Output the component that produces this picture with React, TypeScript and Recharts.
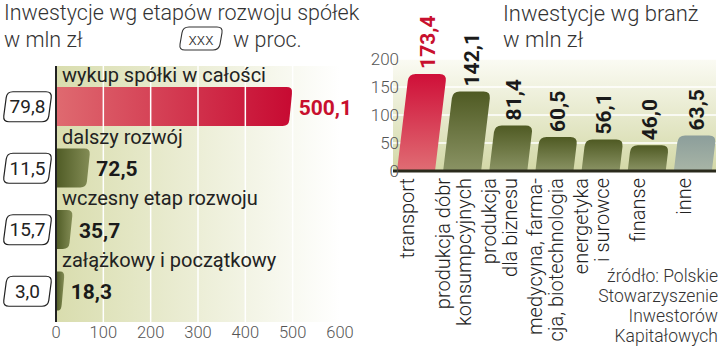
import React from "react";
import { BarChart, Bar, XAxis, YAxis, CartesianGrid, ReferenceLine, LabelList } from "recharts";

// lewy wykres: etapy rozwoju spółek
const stageNames = ["wykup spółki w całości", "dalszy rozwój", "wczesny etap rozwoju", "załążkowy i początkowy"];
const stageValues = [500.1, 72.5, 35.7, 18.3];
const stageShares = [79.8, 11.5, 15.7, 3.0];
const stageTicks = [0, 100, 200, 300, 400, 500, 600];
const stageGrid = [100, 200, 300, 400, 500];

// prawy wykres: branże
const sectorNames = [
  ["transport"],
  ["produkcja dóbr", "konsumpcyjnych"],
  ["produkcja", "dla biznesu"],
  ["medycyna, farma-", "cja, biotechnologia"],
  ["energetyka", "i surowce"],
  ["finanse"],
  ["inne"],
];
const sectorValues = [173.4, 142.1, 81.4, 60.5, 56.1, 46.0, 63.5];
const sectorTicks = [0, 50, 100, 150, 200];
const sourceLines = ["źródło: Polskie", "Stowarzyszenie", "Inwestorów", "Kapitałowych"];

const stageData = stageNames.map((name, i) => ({ name, value: stageValues[i], share: stageShares[i] }));
const sectorData = sectorNames.map((lines, i) => ({ name: lines.join(" "), value: sectorValues[i] }));

const FONT = "Roboto, 'Noto Sans', sans-serif";
const RED = "#c8102e";
const fmt = (v: number) => v.toFixed(1).replace(".", ",");

type Pt = [number, number];
function roundedPoly(pts: Pt[], radii: number[]) {
  const n = pts.length;
  let d = "";
  for (let i = 0; i < n; i++) {
    const p = pts[i];
    const a = pts[(i - 1 + n) % n];
    const b = pts[(i + 1) % n];
    const la = Math.hypot(a[0] - p[0], a[1] - p[1]) || 1;
    const lb = Math.hypot(b[0] - p[0], b[1] - p[1]) || 1;
    const ra = Math.min(radii[i], la / 2);
    const rb = Math.min(radii[i], lb / 2);
    const s = [p[0] + ((a[0] - p[0]) * ra) / la, p[1] + ((a[1] - p[1]) * ra) / la];
    const e = [p[0] + ((b[0] - p[0]) * rb) / lb, p[1] + ((b[1] - p[1]) * rb) / lb];
    d += `${i === 0 ? "M" : "L"}${s[0]},${s[1]}Q${p[0]},${p[1]} ${e[0]},${e[1]}`;
  }
  return d + "Z";
}

const slantBox = (x: number, y: number, w: number, h: number) =>
  roundedPoly(
    [
      [x + 4, y],
      [x + w, y],
      [x + w - 4, y + h],
      [x, y + h],
    ],
    [6, 6, 6, 6]
  );

function HBarShape(props: any) {
  const { x, y, width, height, index } = props;
  if (!width) return null;
  const s = Math.min(4, width * 0.4);
  const d = roundedPoly(
    [
      [x, y],
      [x + width, y],
      [x + width - s, y + height],
      [x, y + height],
    ],
    [0, 6, 6, 0]
  );
  return <path d={d} fill={index === 0 ? "url(#redH)" : "url(#oliveH)"} />;
}

const K = 0.12;
function VBarShape(props: any) {
  const { x, y, width, height, index } = props;
  if (!height) return null;
  const off = K * height;
  const d = roundedPoly(
    [
      [x, y + height],
      [x + off, y],
      [x + width + off, y],
      [x + width, y + height],
    ],
    [0, 7, 7, 0]
  );
  const fill = index === 0 ? "url(#redV)" : index === sectorValues.length - 1 ? "url(#greyV)" : "url(#oliveV)";
  return <path d={d} fill={fill} />;
}

function ShareTick(props: any) {
  const { x, y, index } = props;
  return (
    <g>
      <path d={slantBox(x - 49, y - 15, 49, 30)} fill="#fff" stroke="#222" strokeWidth={1.2} />
      <text x={x - 24.5} y={y} textAnchor="middle" dominantBaseline="central" fontFamily={FONT} fontSize={19} fill="#222">
        {fmt(stageData[index].share)}
      </text>
    </g>
  );
}

function SectorTick(props: any) {
  const { x, y, index } = props;
  const lines = sectorNames[index];
  const cx = x - 9;
  return (
    <text transform={`translate(${cx},${y + 7}) rotate(-90)`} textAnchor="end" fontFamily={FONT} fontWeight={300} fontSize={20} fill="#222">
      {lines.map((l, i) => (
        <tspan key={i} x={0} y={(i - (lines.length - 1) / 2) * 21} dominantBaseline="central">
          {l}
        </tspan>
      ))}
    </text>
  );
}

function SectorYTick(props: any) {
  const { x, y, payload } = props;
  return (
    <text x={x + 6} y={y} textAnchor="end" dominantBaseline="central" fontFamily={FONT} fontWeight={300} fontSize={17} fill="#555">
      {payload.value}
    </text>
  );
}

function StageChart() {
  return (
    <BarChart
      layout="vertical"
      width={360}
      height={356}
      data={stageData}
      margin={{ top: 66, right: 20, bottom: 4, left: 0 }}
    >
      <defs>
        <linearGradient id="bgH" x1="0" y1="0" x2="1" y2="0">
          <stop offset="0" stopColor="#d9ddae" />
          <stop offset="1" stopColor="#ffffff" />
        </linearGradient>
        <linearGradient id="redH" x1="0" y1="0" x2="1" y2="0">
          <stop offset="0" stopColor="#df6a70" />
          <stop offset="1" stopColor="#c70a32" />
        </linearGradient>
        <linearGradient id="oliveH" x1="0" y1="0" x2="1" y2="0">
          <stop offset="0" stopColor="#4f5b25" />
          <stop offset="1" stopColor="#838c55" />
        </linearGradient>
      </defs>
      <CartesianGrid horizontal={false} vertical={false} fill="url(#bgH)" />
      <XAxis
        type="number"
        domain={[0, 600]}
        ticks={stageTicks}
        axisLine={false}
        tickLine={false}
        tickSize={0}
        tickMargin={4}
        height={30}
        tick={{ fill: "#555", fontSize: 16.5, fontFamily: FONT, fontWeight: 300 }}
      />
      <YAxis
        type="category"
        dataKey="name"
        width={56}
        padding={{ top: 10, bottom: 0 }}
        axisLine={{ stroke: "#222", strokeWidth: 2 }}
        tickLine={false}
        tickSize={0}
        tickMargin={4}
        tick={<ShareTick />}
      />
      <Bar dataKey="value" barSize={39} shape={<HBarShape />} isAnimationActive={false}>
        <LabelList
          dataKey="name"
          content={(p: any) => (
            <text x={p.x + 6} y={p.y - 5} fontFamily={FONT} fontSize={20} fill="#222">
              {p.value}
            </text>
          )}
        />
        <LabelList
          dataKey="value"
          content={(p: any) => (
            <text
              x={p.x + p.width + 6}
              y={p.y + p.height / 2 + 1}
              dominantBaseline="central"
              fontFamily={FONT}
              fontWeight={700}
              fontSize={21}
              fill={p.index === 0 ? RED : "#1a1a1a"}
            >
              {fmt(p.value)}
            </text>
          )}
        />
      </Bar>
      {stageGrid.map((v) => (
        <ReferenceLine key={v} x={v} stroke="#ffffff" strokeWidth={1.5} />
      ))}
    </BarChart>
  );
}

function SectorChart() {
  return (
    <BarChart width={360} height={356} data={sectorData} margin={{ top: 59, right: 4, bottom: 0, left: 0 }}>
      <defs>
        <linearGradient id="bgV" x1="0" y1="0" x2="0" y2="1">
          <stop offset="0" stopColor="#fbfbf4" />
          <stop offset="1" stopColor="#d3d8a6" />
        </linearGradient>
        <linearGradient id="redV" x1="0" y1="0" x2="0" y2="1">
          <stop offset="0" stopColor="#cf0f38" />
          <stop offset="1" stopColor="#e06d74" />
        </linearGradient>
        <linearGradient id="oliveV" x1="0" y1="0" x2="0" y2="1">
          <stop offset="0" stopColor="#4f5a23" />
          <stop offset="1" stopColor="#8a9364" />
        </linearGradient>
        <linearGradient id="greyV" x1="0" y1="0" x2="0" y2="1">
          <stop offset="0" stopColor="#8c9e9b" />
          <stop offset="1" stopColor="#a8b5a6" />
        </linearGradient>
      </defs>
      <CartesianGrid vertical={false} stroke="#ffffff" strokeWidth={1.5} fill="url(#bgV)" />
      <XAxis
        dataKey="name"
        interval={0}
        height={185}
        axisLine={{ stroke: "#2a2a1c", strokeWidth: 3 }}
        tickLine={false}
        tickSize={0}
        tickMargin={0}
        tick={<SectorTick />}
      />
      <YAxis
        domain={[0, 200]}
        ticks={sectorTicks}
        width={33}
        axisLine={false}
        tickLine={false}
        tickSize={0}
        tickMargin={0}
        tick={<SectorYTick />}
      />
      <Bar dataKey="value" barSize={38} shape={<VBarShape />} isAnimationActive={false}>
        <LabelList
          dataKey="value"
          content={(p: any) => {
            const cx = p.x + p.width / 2 + K * p.height;
            const ty = p.y - 5;
            return (
              <text
                transform={`translate(${cx},${ty}) rotate(-90)`}
                textAnchor="start"
                dominantBaseline="central"
                fontFamily={FONT}
                fontWeight={700}
                fontSize={21}
                fill={p.index === 0 ? RED : "#1a1a1a"}
              >
                {fmt(p.value)}
              </text>
            );
          }}
        />
      </Bar>
    </BarChart>
  );
}

export default function App() {
  const t = { fontFamily: FONT, fontWeight: 300, fill: "#333" };
  return (
    <div style={{ position: "absolute", left: 0, top: 0, width: 720, height: 356, background: "#fff", overflow: "hidden" }}>
      <div style={{ position: "absolute", left: 0, top: 0 }}>
        <StageChart />
      </div>
      <div style={{ position: "absolute", left: 360, top: 0 }}>
        <SectorChart />
      </div>
      <svg width={720} height={356} style={{ position: "absolute", left: 0, top: 0, pointerEvents: "none" }}>
        <text x={4} y={20} fontSize={21.5} {...t}>Inwestycje wg etapów rozwoju spółek</text>
        <text x={4} y={47} fontSize={21.5} {...t}>w mln zł</text>
        <path d={slantBox(179, 27, 44, 23)} fill="#fff" stroke="#333" strokeWidth={1.1} />
        <text x={201} y={39} textAnchor="middle" dominantBaseline="central" fontSize={17} {...t}>xxx</text>
        <text x={233} y={47} fontSize={21.5} {...t}>w proc.</text>
        <text x={503} y={21} fontSize={22} {...t}>Inwestycje wg branż</text>
        <text x={503} y={47} fontSize={22} {...t}>w mln zł</text>
        {sourceLines.map((l, i) => (
          <text key={i} x={718} y={282 + i * 20} textAnchor="end" fontSize={17.5} {...t}>
            {l}
          </text>
        ))}
      </svg>
    </div>
  );
}
